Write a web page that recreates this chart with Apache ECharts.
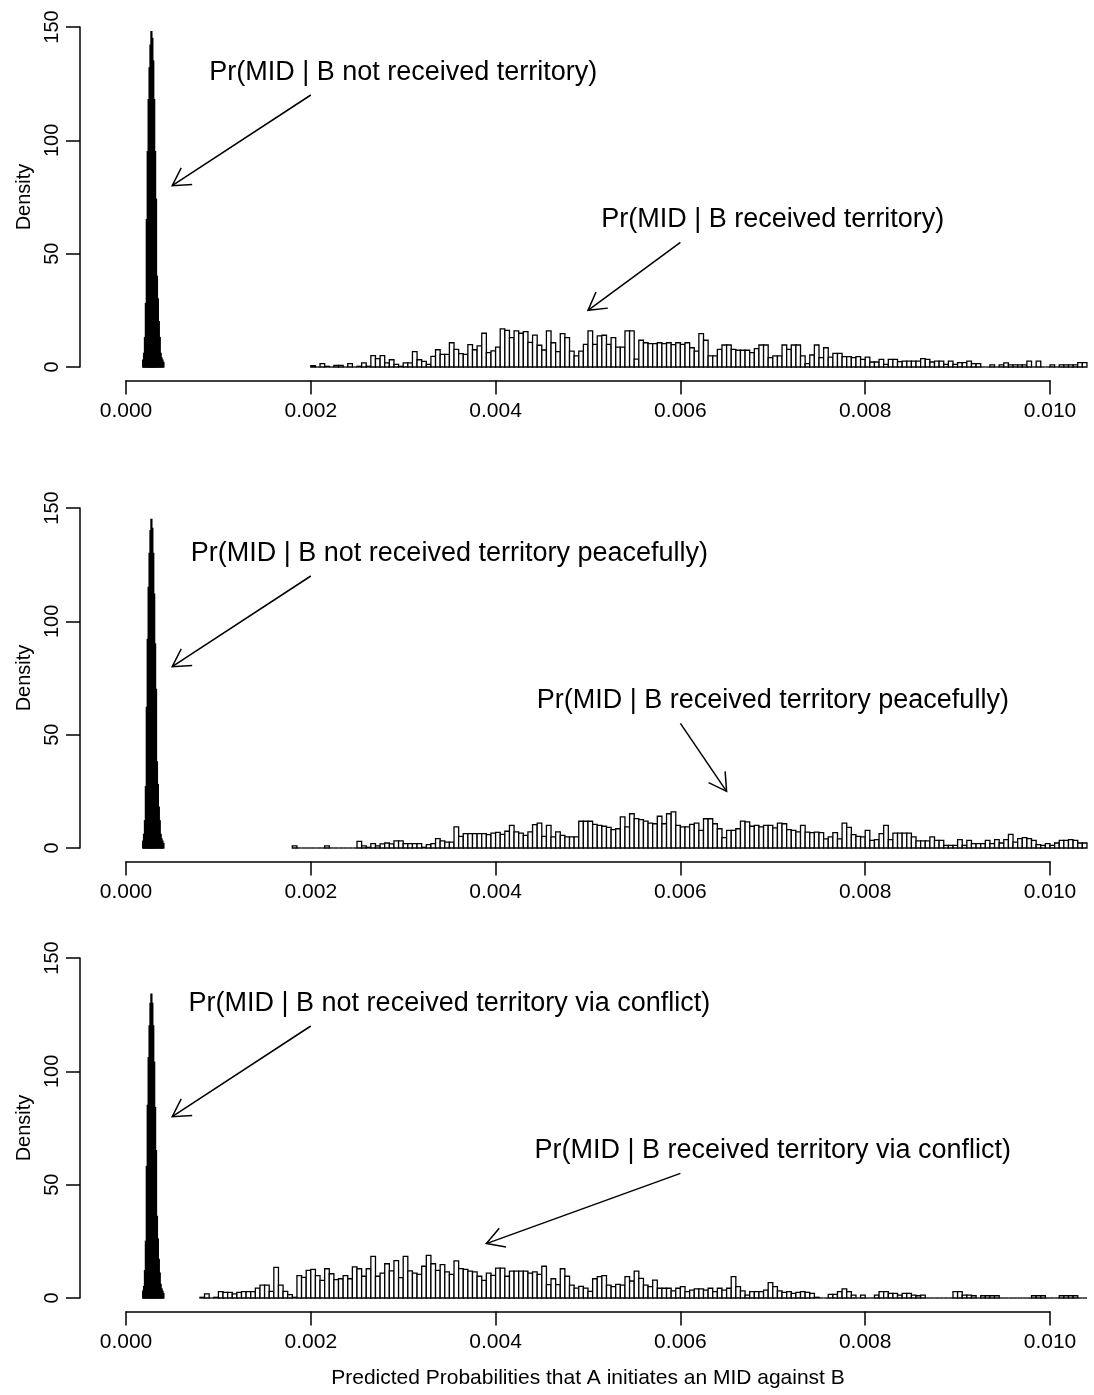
<!DOCTYPE html>
<html>
<head>
<meta charset="utf-8">
<title>Predicted probabilities that A initiates an MID against B</title>
<script src="https://cdn.jsdelivr.net/npm/echarts@6/dist/echarts.min.js"></script>
<style>
  html, body { margin: 0; padding: 0; background: #fff; }
  #chart { width: 1094px; height: 1395px; }
</style>
</head>
<body>
<div id="chart"></div>
<script>
// axis ticks
const xTicks = [0, 0.002, 0.004, 0.006, 0.008, 0.010]
const yTicks = [0, 50, 100, 150]

// narrow black histograms (not received), bins of 0.00001 from 0.00018
const spikeStart = 0.00018
const spikeWidth = 0.00001
const spike1 = [3, 6, 13, 28, 65, 95, 118, 132, 142, 148, 145, 135, 118, 95, 74, 40, 30, 20, 13, 6, 4, 3, 2]
const spike2 = [3, 6, 12, 27, 62, 92, 115, 130, 140, 145, 141, 130, 112, 90, 70, 38, 28, 18, 12, 6, 4, 3, 2]
const spike3 = [3, 5, 12, 25, 58, 85, 106, 120, 130, 134, 130, 120, 104, 84, 65, 36, 26, 17, 11, 6, 4, 3, 2]

// wide white histograms (received), bins of 0.00005
const histWidth = 0.00005
const histStart1 = 0.002
const hist1 = [
  0.6, 0, 1.5, 0.3, 0, 0.7, 0.7, 0, 1.5, 0,
  0.3, 1.8, 0.3, 5, 3.7, 5, 1.8, 3.2, 1.2, 0.3,
  1.8, 1.8, 6.8, 3.2, 2.5, 1.2, 4.7, 7.6, 5.6, 5.6,
  10.7, 7.8, 5.9, 5.6, 9.9, 7.6, 9.3, 14.9, 6.3, 7.1,
  8.8, 16.8, 16.2, 13, 15.9, 14.9, 15.6, 10.9, 14.1, 9.6,
  7.5, 15.9, 10.7, 6.8, 14.7, 13, 7, 4.9, 7, 10,
  15.9, 10, 13.7, 14, 10, 13, 8.8, 8.8, 15.9, 15.9,
  3.5, 11.8, 10.7, 10.3, 10.3, 10.7, 10.3, 10.7, 9.9, 10.7,
  10, 10.7, 8.5, 7, 14.7, 11.8, 4.9, 4.9, 7.8, 9.7,
  9.7, 7.8, 7.4, 7.4, 7.4, 6.3, 8.1, 9.7, 9.7, 4.1,
  4.9, 4.9, 9.7, 7.8, 9.7, 9.7, 4.9, 1.5, 5.3, 9.7,
  4.1, 8.5, 4.4, 6, 6, 4.6, 4.6, 4.1, 4.6, 3.4,
  4.4, 2.2, 2.2, 3.4, 1.2, 3.4, 3.4, 2.4, 2.6, 2.6,
  2.6, 2.6, 3.7, 3.4, 2.2, 2.6, 2.6, 1.2, 2.6, 1.2,
  1.9, 1.9, 2.6, 1.5, 1.5, 0, 0, 0.9, 0, 0.9,
  1.8, 0.9, 0.9, 0.9, 0.9, 2.6, 0, 2.6, 0, 0,
  0.9, 0, 0.9, 0.9, 0.9, 0.9, 1.9, 1.9
]
const histStart2 = 0.0018
const hist2 = [
  0.9, 0, 0, 0, 0, 0, 0, 0.9, 0, 0,
  0, 0, 0, 0, 2.9, 0.9, 0.3, 1.9, 0.9, 1.8,
  2.2, 1.8, 3.1, 3.1, 1.9, 1.9, 1.9, 1.9, 0.3, 1.5,
  1.9, 4.1, 3.1, 2.6, 2.6, 9.3, 5.1, 6.3, 6.3, 6.3,
  6.3, 6.3, 5.9, 6.6, 6.9, 6, 7.4, 10, 7.1, 6.6,
  5.6, 7.1, 10.3, 11, 5.1, 10, 4.9, 7.1, 5.6, 4.9,
  4.9, 4.9, 11.8, 11.8, 11.8, 10.4, 10, 9.6, 9.1, 8.1,
  8.5, 13.7, 9.3, 15.1, 13, 12.5, 11.9, 11, 10.7, 14,
  10.7, 15.1, 15.9, 10, 9.3, 9.3, 10.4, 11, 7.8, 12.9,
  12.9, 10.7, 8.5, 4.6, 7.8, 7.8, 8.5, 11.9, 11.5, 9.6,
  10, 9.3, 10, 10, 8.9, 11, 10.7, 8.1, 7.8, 7.1,
  10, 7, 6.8, 7, 6.8, 4, 4.9, 6.8, 4, 11,
  9.1, 5.9, 5.1, 4.9, 7.8, 3.4, 3.7, 6.3, 10, 3.7,
  6.6, 6.6, 6.6, 6.6, 4.9, 3.1, 3.1, 3.1, 4.9, 3.4,
  3.4, 1.2, 1.2, 1.2, 3.7, 1.2, 3.4, 1.9, 1.9, 1.9,
  3.4, 1.9, 3.7, 2.2, 3.7, 6, 2.6, 4.1, 4.6, 4.1,
  3.4, 1.5, 1.2, 1.9, 1.2, 2.2, 3.4, 3.4, 3.7, 3.4,
  2.2, 2.2
]
const histStart3 = 0.0008
const hist3 = [
  0.3, 1.8, 0, 0.3, 2.8, 2.5, 2.5, 1.8, 2.5, 2.8,
  2.8, 2.8, 4.4, 5.7, 5.7, 2.9, 13.5, 5.7, 2.9, 1.5,
  0.3, 9.9, 9.1, 12.2, 12.6, 9.9, 7.8, 12.9, 10.7, 8.1,
  8.5, 9.9, 8.5, 13.7, 12.9, 9.6, 12.9, 18.4, 9.6, 11,
  15.1, 12, 16.5, 9, 18.4, 12, 11, 10.4, 14, 18.8,
  15.1, 12.2, 14.7, 11.5, 10.4, 16.4, 13, 12.6, 11.9, 11.5,
  9.6, 7.8, 11, 10, 13.2, 13.2, 9.6, 11.9, 11.9, 11.9,
  11.9, 11, 11.5, 10.4, 14, 5.9, 8.5, 5.9, 12.9, 9.6,
  5.7, 4.4, 5.1, 4.4, 2.9, 8.5, 9.4, 9.9, 5.7, 5,
  6, 5.7, 9.4, 7.5, 11.9, 8.7, 5.7, 5, 7.9, 4.3,
  4.3, 4.3, 3.1, 4.3, 5, 2.8, 3.5, 4, 4, 3.5,
  4.3, 2.8, 4.3, 3.5, 4.3, 9.4, 5, 3.1, 1.3, 2.8,
  2.8, 2.8, 3.5, 6.8, 5, 3.1, 2.5, 2.8, 2, 2.5,
  2.8, 2.5, 2, 0.3, 0, 0, 1.6, 1.6, 2.8, 4,
  2.8, 1.3, 0, 1.3, 0, 0, 1.3, 2.8, 2.8, 2,
  2, 1.3, 2, 2, 1.3, 1, 1.3, 0, 0, 0,
  0, 0, 0, 2.8, 2.8, 1.3, 1.3, 1, 0, 1,
  1, 1, 1, 0, 0, 0, 0, 0, 0, 0,
  1, 1, 1, 0, 0, 0, 1, 1, 1, 1,
  0, 0
]

// annotations: text centre and arrow (from x0,y0 to x1,y1), data units
const topNotes = [
  'Pr(MID | B not received territory)',
  'Pr(MID | B not received territory peacefully)',
  'Pr(MID | B not received territory via conflict)'
]
const bottomNotes = [
  'Pr(MID | B received territory)',
  'Pr(MID | B received territory peacefully)',
  'Pr(MID | B received territory via conflict)'
]
const topNoteAt = [[0.003, 130], [0.0035, 130], [0.0035, 130]]
const bottomNoteAt = [[0.007, 65], [0.007, 65], [0.007, 65]]
const topArrows = [[0.002, 120, 0.0005, 80], [0.002, 120, 0.0005, 80], [0.002, 120, 0.0005, 80]]
const bottomArrows = [[0.006, 55, 0.005, 25], [0.006, 55, 0.0065, 25], [0.006, 55, 0.0039, 24]]

const panels = [
  { spike: spike1, hist: hist1, start: histStart1 },
  { spike: spike2, hist: hist2, start: histStart2 },
  { spike: spike3, hist: hist3, start: histStart3 }
]

// layout (pixels)
const zeroY = [367, 848, 1298]
const pxPerUnit = 340 / 150
const axisX0 = 126
const pxPerX = 924 / 0.01
const plotLeft = 80
const plotRight = 1088
const font = '"Liberation Sans", Arial, Helvetica, sans-serif'
const axisFont = 21

function binsOf(values, start, width) {
  return values.map((h, i) => [start + i * width, start + (i + 1) * width, h])
}

function histItem(fill) {
  return function (params, api) {
    const a = api.coord([api.value(0), 0])
    const b = api.coord([api.value(1), api.value(2)])
    if (api.value(2) <= 0) {
      return { type: 'line', shape: { x1: a[0], y1: a[1], x2: b[0], y2: a[1] },
        style: { stroke: '#000', lineWidth: 1.3 } }
    }
    return {
      type: 'rect',
      shape: { x: a[0], y: b[1], width: b[0] - a[0], height: a[1] - b[1] },
      style: { fill: fill, stroke: '#000', lineWidth: 1.3 }
    }
  }
}

function noteItem(labels) {
  return function (params, api) {
    const t = api.coord([api.value(0), api.value(1)])
    const s = api.coord([api.value(2), api.value(3)])
    const e = api.coord([api.value(4), api.value(5)])
    const ang = Math.atan2(e[1] - s[1], e[0] - s[0])
    const len = 20
    const spread = Math.PI / 6
    const h1 = [e[0] - len * Math.cos(ang - spread), e[1] - len * Math.sin(ang - spread)]
    const h2 = [e[0] - len * Math.cos(ang + spread), e[1] - len * Math.sin(ang + spread)]
    return {
      type: 'group',
      children: [
        { type: 'text', x: t[0], y: t[1],
          style: { text: labels[params.dataIndex], font: '27px ' + font, fill: '#000',
            align: 'center', verticalAlign: 'middle', textAlign: 'center', textVerticalAlign: 'middle' } },
        { type: 'line', shape: { x1: s[0], y1: s[1], x2: e[0], y2: e[1] },
          style: { stroke: '#000', lineWidth: 1.5 } },
        { type: 'polyline', shape: { points: [h1, e, h2] },
          style: { stroke: '#000', lineWidth: 1.5, fill: null } }
      ]
    }
  }
}

const grid = []
const xAxis = []
const yAxis = []
const series = []
const hidden = { show: false }
const black = { color: '#000', width: 1.5 }

panels.forEach((p, k) => {
  const y0 = zeroY[k]
  const g = k * 3
  // plot region, 4% padding like R
  grid.push({ left: plotLeft, width: plotRight - plotLeft, top: y0 - 156 * pxPerUnit, height: 162 * pxPerUnit })
  // x tick axis
  grid.push({ left: axisX0, width: 924, top: y0 + 6 * pxPerUnit - 10, height: 10 })
  // y tick axis
  grid.push({ left: plotLeft, width: 10, top: y0 - 150 * pxPerUnit, height: 150 * pxPerUnit })

  xAxis.push({ gridIndex: g, type: 'value', min: (plotLeft - axisX0) / pxPerX, max: (plotRight - axisX0) / pxPerX, ...hidden })
  yAxis.push({ gridIndex: g, type: 'value', min: -6, max: 156, ...hidden })

  xAxis.push({
    gridIndex: g + 1, type: 'value', position: 'bottom',
    min: xTicks[0], max: xTicks[xTicks.length - 1], interval: xTicks[1] - xTicks[0],
    axisLine: { show: true, onZero: false, lineStyle: black },
    axisTick: { show: true, inside: false, length: 14, lineStyle: black },
    axisLabel: { color: '#000', fontSize: axisFont, fontFamily: font, margin: 20, formatter: v => v.toFixed(3) },
    splitLine: { show: false },
    name: k === 2 ? 'Predicted Probabilities that A initiates an MID against B' : '',
    nameLocation: 'middle', nameGap: 56,
    nameTextStyle: { color: '#000', fontSize: axisFont, fontFamily: font }
  })
  yAxis.push({ gridIndex: g + 1, type: 'value', ...hidden })

  xAxis.push({ gridIndex: g + 2, type: 'value', ...hidden })
  yAxis.push({
    gridIndex: g + 2, type: 'value', position: 'left',
    min: yTicks[0], max: yTicks[yTicks.length - 1], interval: yTicks[1] - yTicks[0],
    axisLine: { show: true, onZero: false, lineStyle: black },
    axisTick: { show: true, inside: false, length: 14, lineStyle: black },
    axisLabel: { color: '#000', fontSize: 20, fontFamily: font, margin: 18, rotate: 90 },
    splitLine: { show: false },
    name: 'Density', nameLocation: 'middle', nameGap: 46,
    nameTextStyle: { color: '#000', fontSize: 20, fontFamily: font }
  })

  series.push({
    type: 'custom', xAxisIndex: g, yAxisIndex: g, silent: true,
    renderItem: histItem('#fff'),
    encode: { x: [0, 1], y: 2 },
    data: binsOf(p.hist, p.start, histWidth)
  })
  series.push({
    type: 'custom', xAxisIndex: g, yAxisIndex: g, silent: true,
    renderItem: histItem('#000'),
    encode: { x: [0, 1], y: 2 },
    data: binsOf(p.spike, spikeStart, spikeWidth)
  })
  series.push({
    type: 'custom', xAxisIndex: g, yAxisIndex: g, silent: true,
    renderItem: noteItem([topNotes[k], bottomNotes[k]]),
    data: [
      [topNoteAt[k][0], topNoteAt[k][1]].concat(topArrows[k]),
      [bottomNoteAt[k][0], bottomNoteAt[k][1]].concat(bottomArrows[k])
    ]
  })
})

const chart = echarts.init(document.getElementById('chart'), null, { renderer: 'canvas' })
chart.setOption({
  animation: false,
  backgroundColor: '#fff',
  grid: grid,
  xAxis: xAxis,
  yAxis: yAxis,
  series: series
})
</script>
</body>
</html>
